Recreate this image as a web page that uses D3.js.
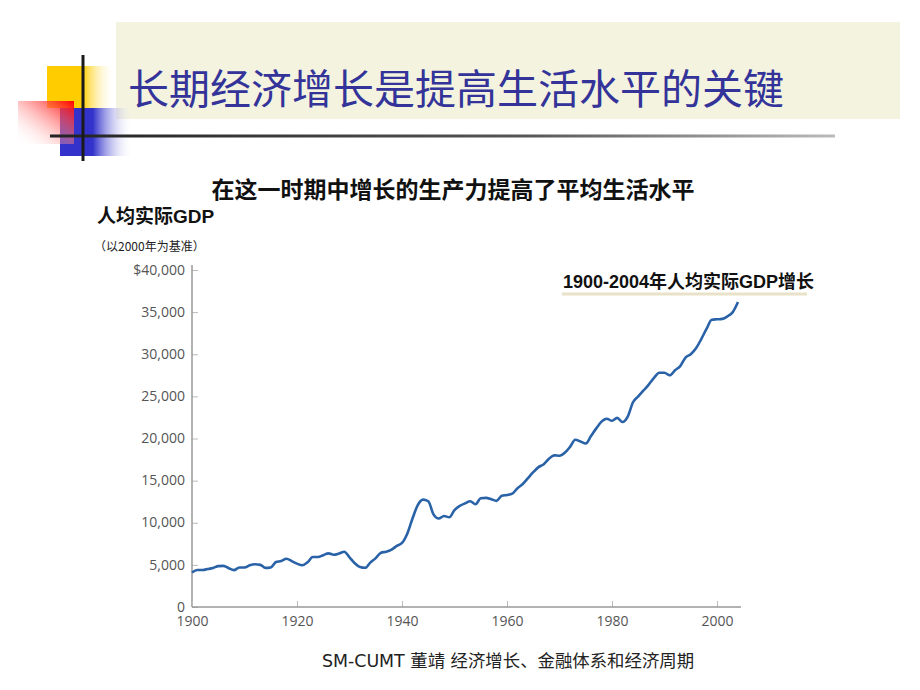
<!DOCTYPE html>
<html><head><meta charset="utf-8">
<script src="https://cdn.jsdelivr.net/npm/d3@7"></script>
<style>body{margin:0;background:#fff}svg{display:block}</style>
</head><body>
<svg id="c" width="920" height="690"></svg>
<script>
const titleText = "长期经济增长是提高生活水平的关键";
const chartTitle = "在这一时期中增长的生产力提高了平均生活水平";
const yAxisTitle = "人均实际GDP";
const yAxisSub = "（以2000年为基准）";
const annotation = "1900-2004年人均实际GDP增长";
const footer = "SM-CUMT 董靖 经济增长、金融体系和经济周期";
const years = d3.range(1900, 2005);
const gdp = [
 4100,4390,4400,4500,4620,4850,4880,4600,4380,4680,
 4680,4950,5070,5000,4640,4700,5340,5450,5730,5450,
 5150,4950,5300,5930,5930,6150,6370,6200,6350,6560,
 5900,5200,4750,4650,5300,5800,6450,6560,6800,7250,
 7600,8700,10500,12100,12750,12550,11000,10500,10800,10650,
 11500,12000,12300,12550,12200,12900,12950,12800,12600,13200,
 13300,13450,14100,14600,15300,16000,16600,16950,17600,18000,
 17950,18300,19000,19850,19650,19400,20300,21200,22000,22350,
 22100,22450,21950,22600,24300,25000,25700,26400,27200,27800,
 27800,27500,28100,28600,29600,30000,30700,31800,33000,34100,
 34150,34200,34500,35000,36200
];
const yTicks = [0,5000,10000,15000,20000,25000,30000,35000,40000];
const yTickLabels = ["0","5,000","10,000","15,000","20,000","25,000","30,000","35,000","$40,000"];
const xTicks = [1900,1920,1940,1960,1980,2000];

const svg = d3.select("#c");
const defs = svg.append("defs");
function lg(id, x1,y1,x2,y2, stops){
  const g = defs.append("linearGradient").attr("id",id)
    .attr("x1",x1).attr("y1",y1).attr("x2",x2).attr("y2",y2);
  stops.forEach(s=>g.append("stop").attr("offset",s[0]).attr("stop-color",s[1]).attr("stop-opacity",s[2]===undefined?1:s[2]));
}
lg("gy","0","0","1","0",[[0,"#ffcc00"],[0.52,"#ffcc00"],[1,"#ffffff",0]]);
lg("gb","0","0","1","0",[[0,"#3333cc"],[0.45,"#3333cc"],[1,"#ffffff",0]]);
lg("gr","1","0","0","1",[[0,"#ff0000"],[1,"#ffffff",0]]);
lg("gl","0","0","1","0",[[0,"#222"],[0.6,"#555"],[1,"#bbb"]]);

// header decoration
svg.append("rect").attr("x",116).attr("y",22).attr("width",784).attr("height",97).attr("fill","#f3f3df");
svg.append("rect").attr("x",47).attr("y",66).attr("width",68).attr("height",42).attr("fill","url(#gy)");
svg.append("rect").attr("x",60).attr("y",108).attr("width",73).attr("height",48).attr("fill","url(#gb)");
svg.append("rect").attr("x",18).attr("y",101).attr("width",56).attr("height",43).attr("fill","url(#gr)");
svg.append("rect").attr("x",50).attr("y",134.5).attr("width",785).attr("height",3).attr("fill","url(#gl)");
svg.append("rect").attr("x",81.5).attr("y",55).attr("width",3).attr("height",106).attr("fill","#1a1a1a");
svg.append("text").attr("x",128).attr("y",104).attr("fill","#333399")
  .style("font-family","'Noto Sans CJK SC'").style("font-size","41px").text(titleText);

// chart
const x = d3.scaleLinear().domain([1900,2004]).range([192,738]);
const y = d3.scaleLinear().domain([0,40000]).range([607,270]);

svg.append("text").attr("x",453).attr("y",198).attr("text-anchor","middle").attr("fill","#111")
  .style("font-family","'Noto Sans CJK SC'").style("font-weight","bold").style("font-size","23px").text(chartTitle);
svg.append("text").attr("x",97).attr("y",223).attr("fill","#111")
  .style("font-family","'Liberation Sans','Noto Sans CJK SC'").style("font-weight","bold").style("font-size","19px").text(yAxisTitle);
svg.append("text").attr("x",94).attr("y",251).attr("fill","#222")
  .style("font-family","'Noto Sans CJK SC'").style("font-size","12px").text(yAxisSub);

const gy = svg.append("g").attr("transform",`translate(${x(1900)},0)`)
  .call(d3.axisLeft(y).tickValues(yTicks).tickFormat((d,i)=>yTickLabels[i]).tickSizeInner(-6).tickSizeOuter(0).tickPadding(7));
gy.select(".domain").remove();
gy.selectAll(".tick line").attr("stroke","#bbb");
gy.selectAll(".tick text").attr("fill","#555").attr("dy","0.3em").style("font-family","'Open Sans'").style("font-size","14px");
svg.append("line").attr("x1",x(1900)).attr("x2",x(1900)).attr("y1",y(0)).attr("y2",y(40000)-5).attr("stroke","#999").attr("stroke-width",1.5);

const gx = svg.append("g").attr("transform",`translate(0,${y(0)})`)
  .call(d3.axisBottom(x).tickValues(xTicks).tickFormat(d3.format("d")).tickSizeInner(-6).tickSizeOuter(0).tickPadding(9));
gx.select(".domain").remove();
gx.selectAll(".tick line").attr("stroke","#bbb");
gx.selectAll(".tick text").attr("fill","#555").style("font-family","'Open Sans'").style("font-size","14px");
svg.append("line").attr("x1",x(1900)).attr("x2",x(2004)+3).attr("y1",y(0)).attr("y2",y(0)).attr("stroke","#999").attr("stroke-width",1.5);

const line = d3.line().x((d,i)=>x(years[i])).y(d=>y(d)).curve(d3.curveMonotoneX);
svg.append("path").datum(gdp).attr("d",line).attr("fill","none").attr("stroke","#2a62a8").attr("stroke-width",2.6).attr("stroke-linejoin","round");

// annotation
svg.append("rect").attr("x",562).attr("y",292.5).attr("width",245).attr("height",3).attr("fill","#e9e2c8");
svg.append("text").attr("x",563).attr("y",288).attr("fill","#111")
  .style("font-family","'Liberation Sans','Noto Sans CJK SC'").style("font-weight","bold").style("font-size","18px").text(annotation);

svg.append("text").attr("x",508).attr("y",667).attr("text-anchor","middle").attr("fill","#222")
  .style("font-family","'DejaVu Sans','Noto Sans CJK SC'").style("font-size","17.4px").text(footer);
</script>
</body></html>
